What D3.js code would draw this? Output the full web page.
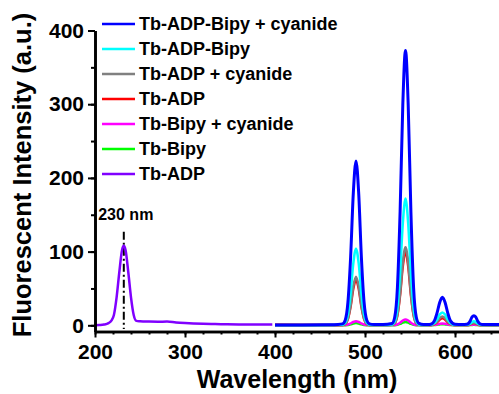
<!DOCTYPE html>
<html>
<head>
<meta charset="utf-8">
<script src="https://cdn.jsdelivr.net/npm/d3@7"></script>
<style>
  body { margin: 0; background: #fff; }
  text { font-family: "Liberation Sans", Arial, sans-serif; font-weight: bold; fill: #000; }
</style>
</head>
<body>
<div id="d3-container"></div>
<script>
// excitation spectrum (Tb-ADP), 200-397 nm
const excWave = [200, 205, 210, 215, 218, 221, 224, 227, 230, 232, 234, 237, 240, 243, 246, 250, 260, 270, 280, 290, 300, 320, 340, 360, 380, 397];
const excTbADP = [0, 0.3, 1, 3, 6, 14, 38, 72, 102, 108, 102, 72, 38, 14, 6, 5.5, 5, 4.8, 5, 3.8, 3, 2, 1.6, 1.2, 1, 1];

// emission spectra, 400-650 nm
const emWave = [400, 430, 460, 470, 475, 478, 481, 484, 487, 490, 493, 496, 499, 502, 505, 510, 520,
  530, 533, 536, 539, 542, 545, 548, 551, 554, 557, 560, 565, 570, 574, 577, 580, 583, 586, 589, 592,
  595, 600, 608, 613, 615, 617, 619, 621, 623, 625, 627, 630, 640, 650];
const tbAdpBipyCn = [0.5, 0.5, 0.8, 1.2, 2, 7, 31, 92, 179, 223, 179, 92, 31, 7, 2, 1, 1,
  2.5, 11, 51, 154, 299, 373, 299, 154, 51, 11, 2.5, 1, 1, 2, 6, 16.6, 31, 38, 31, 16.6,
  6, 1.3, 1, 1.3, 2.6, 6.3, 11.4, 13, 11.4, 6.3, 2.6, 1.1, 1, 1];
const tbAdpBipy = [0.3, 0.3, 0.5, 0.6, 0.9, 3.4, 14.5, 43, 84, 104, 84, 43, 14.5, 3.4, 0.9, 0.5, 0.5,
  1.2, 5.3, 23.7, 71, 138, 172, 138, 71, 23.7, 5.3, 1.2, 0.5, 0.5, 1, 2.9, 7.7, 14.5, 17.5, 14.5, 7.7,
  2.9, 0.6, 0.5, 0.6, 1.2, 2.7, 4.6, 5.5, 4.6, 2.7, 1.2, 0.5, 0.5, 0.5];
const tbAdpCn = [0.2, 0.2, 0.3, 0.3, 0.5, 2, 9, 27, 53, 66, 53, 27, 9, 2, 0.5, 0.3, 0.3,
  0.7, 3, 14.3, 43.5, 85, 106, 85, 43.5, 14.3, 3, 0.7, 0.3, 0.3, 0.6, 1.9, 5, 9.6, 12, 9.6, 5,
  1.9, 0.4, 0.3, 0.3, 0.7, 1.5, 2.8, 3.5, 2.8, 1.5, 0.7, 0.3, 0.2, 0.2];
const tbAdp = [1.2, 0.8, 0.5, 0.4, 0.5, 1.9, 8.5, 25.5, 49.6, 62, 49.6, 25.5, 8.5, 1.9, 0.5, 0.3, 0.3,
  0.6, 2.8, 13.5, 41, 80, 100, 80, 41, 13.5, 2.8, 0.6, 0.3, 0.3, 0.5, 1.5, 4, 7.6, 9.5, 7.6, 4,
  1.5, 0.3, 0.3, 0.3, 0.5, 1.2, 2.4, 3, 2.4, 1.2, 0.5, 0.3, 0.2, 0.2];
const tbBipyCn = [0.3, 0.3, 0.3, 0.3, 0.3, 0.45, 1, 2.5, 4.5, 5.5, 4.5, 2.5, 1, 0.45, 0.3, 0.3, 0.3,
  0.3, 0.5, 1.3, 3.5, 6.5, 8, 6.5, 3.5, 1.3, 0.5, 0.3, 0.3, 0.3, 0.3, 0.6, 1.2, 2, 2.5, 2, 1.2,
  0.6, 0.3, 0.3, 0.3, 0.35, 0.6, 0.85, 1, 0.85, 0.6, 0.35, 0.3, 0.3, 0.3];
const tbBipy = [0.1, 0.1, 0.1, 0.1, 0.1, 0.2, 0.5, 1.3, 2.4, 3, 2.4, 1.3, 0.5, 0.2, 0.1, 0.1, 0.1,
  0.1, 0.2, 0.7, 1.9, 3.6, 4.5, 3.6, 1.9, 0.7, 0.2, 0.1, 0.1, 0.1, 0.1, 0.3, 0.7, 1.2, 1.5, 1.2, 0.7,
  0.3, 0.1, 0.1, 0.1, 0.15, 0.3, 0.5, 0.6, 0.5, 0.3, 0.15, 0.1, 0.1, 0.1];

const legendLabels = ["Tb-ADP-Bipy + cyanide", "Tb-ADP-Bipy", "Tb-ADP + cyanide", "Tb-ADP",
  "Tb-Bipy + cyanide", "Tb-Bipy", "Tb-ADP"];
const colors = ["#0000ff", "#00ffff", "#808080", "#ff0000", "#ff00ff", "#00ff00", "#8000ff"];

const xMajor = [200, 300, 400, 500, 600];
const yMajor = [0, 100, 200, 300, 400];
const peakMark = 232;
const peakLabel = "230 nm";

// table of series, first in legend drawn last (on top)
const series = [
  { label: legendLabels[0], wave: emWave, vals: tbAdpBipyCn, color: colors[0] },
  { label: legendLabels[1], wave: emWave, vals: tbAdpBipy, color: colors[1] },
  { label: legendLabels[2], wave: emWave, vals: tbAdpCn, color: colors[2] },
  { label: legendLabels[3], wave: emWave, vals: tbAdp, color: colors[3] },
  { label: legendLabels[4], wave: emWave, vals: tbBipyCn, color: colors[4] },
  { label: legendLabels[5], wave: emWave, vals: tbBipy, color: colors[5] },
  { label: legendLabels[6], wave: excWave, vals: excTbADP, color: colors[6] }
];

const width = 499, height = 394;

const xScale = d3.scaleLinear().domain([200, 650]).range([95, 500]);
const yScale = d3.scaleLinear().domain([-8.4, 400]).range([331.5, 30.5]);

const svg = d3.select("#d3-container")
  .append("svg")
  .attr("width", width)
  .attr("height", height);

const line = d3.line()
  .x(d => xScale(d[0]))
  .y(d => yScale(d[1]))
  .curve(d3.curveMonotoneX);

// dash-dot marker at excitation peak
svg.append("line")
  .attr("x1", xScale(peakMark)).attr("x2", xScale(peakMark))
  .attr("y1", yScale(127)).attr("y2", yScale(-5))
  .attr("stroke", "#000")
  .attr("stroke-width", 2)
  .attr("stroke-dasharray", "8,3,2,3");

svg.append("text")
  .attr("x", xScale(peakMark) + 2)
  .attr("y", 220)
  .attr("text-anchor", "middle")
  .attr("font-size", 16)
  .text(peakLabel);

svg.selectAll(".spec")
  .data(series.slice().reverse())
  .enter()
  .append("path")
  .attr("class", "spec")
  .attr("fill", "none")
  .attr("stroke", d => d.color)
  .attr("stroke-width", d => d.color === "#0000ff" ? 3 : 2.5)
  .attr("d", d => line(d.wave.map((w, i) => [w, d.vals[i]])));

// axes
const xMinor = svg.append("g")
  .attr("transform", "translate(0," + yScale.range()[0] + ")")
  .call(d3.axisBottom(xScale).tickValues(d3.range(200, 651, 20)).tickSize(3).tickSizeOuter(0).tickFormat(""));
const xAxis = svg.append("g")
  .attr("transform", "translate(0," + yScale.range()[0] + ")")
  .call(d3.axisBottom(xScale).tickValues(xMajor).tickSize(6).tickSizeOuter(0).tickPadding(7));
xAxis.selectAll("text").attr("font-size", 21).attr("font-family", null);

const yMinor = svg.append("g")
  .attr("transform", "translate(" + xScale.range()[0] + ",0)")
  .call(d3.axisLeft(yScale).tickValues(d3.range(0, 401, 50)).tickSize(4).tickSizeOuter(0).tickFormat(""));
const yAxis = svg.append("g")
  .attr("transform", "translate(" + xScale.range()[0] + ",0)")
  .call(d3.axisLeft(yScale).tickValues(yMajor).tickSize(7).tickSizeOuter(0).tickPadding(4));
yAxis.selectAll("text").attr("font-size", 21).attr("font-family", null);

svg.selectAll(".domain").attr("stroke", "#000").attr("stroke-width", 2.6);
svg.selectAll(".tick line").attr("stroke", "#000").attr("stroke-width", 2);

// axis titles
svg.append("text")
  .attr("x", 297)
  .attr("y", 388)
  .attr("text-anchor", "middle")
  .attr("font-size", 25)
  .text("Wavelength (nm)");

svg.append("text")
  .attr("transform", "translate(31,175) rotate(-90)")
  .attr("text-anchor", "middle")
  .attr("font-size", 25.5)
  .text("Fluorescent Intensity (a.u.)");

// legend
const legend = svg.selectAll(".legend")
  .data(series)
  .enter()
  .append("g")
  .attr("class", "legend")
  .attr("transform", (d, i) => "translate(102," + (24 + i * 25) + ")");
legend.append("line")
  .attr("x1", 0).attr("x2", 33)
  .attr("stroke", d => d.color)
  .attr("stroke-width", 2.6);
legend.append("text")
  .attr("x", 37)
  .attr("dy", "0.36em")
  .attr("font-size", 18)
  .text(d => d.label);
</script>
</body>
</html>
